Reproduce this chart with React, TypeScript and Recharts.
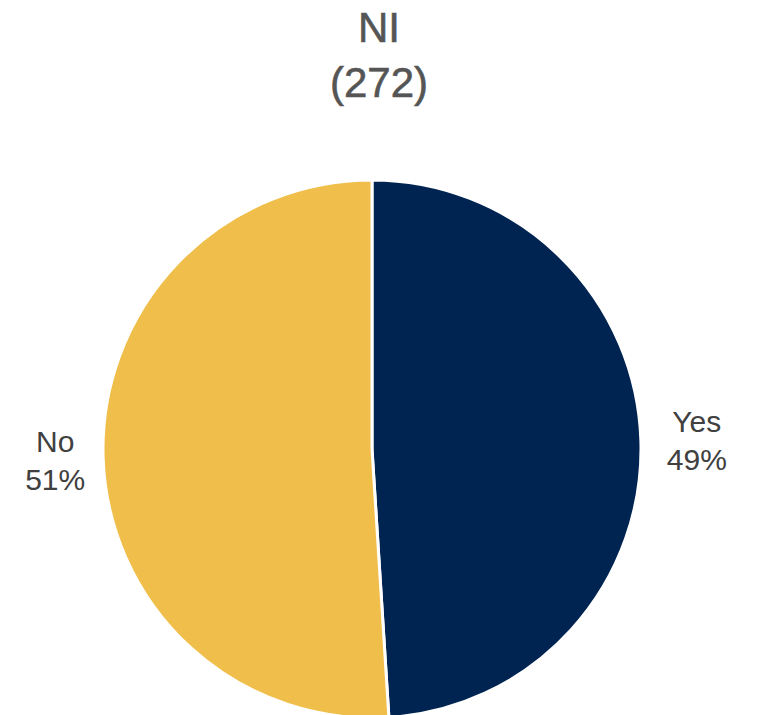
import React from 'react';
import { PieChart, Pie, Cell } from 'recharts';

const categories = ['Yes', 'No'];
const values = [49, 51];
const colors = ['#002452', '#F0BE4A'];
const titleLines = ['NI', '(272)'];

const data = categories.map((name, i) => ({ name, value: values[i] }));

const RAD = Math.PI / 180;

const renderLabel = (props: any) => {
  const { cx, cy, midAngle, outerRadius, name, value } = props;
  const r = outerRadius + 52;
  const x = cx + r * Math.cos(-midAngle * RAD) + 4;
  const y = cy + r * Math.sin(-midAngle * RAD);
  return (
    <text
      x={x}
      y={y}
      textAnchor="middle"
      fill="#404040"
      fontSize={30}
      fontFamily="'Liberation Sans', Arial, sans-serif"
    >
      <tspan x={x} dy={-7}>{name}</tspan>
      <tspan x={x} dy={38}>{`${value}%`}</tspan>
    </text>
  );
};

export default function App() {
  return (
    <div style={{ position: 'absolute', left: 0, top: 0, width: 758, height: 715, background: '#fff' }}>
      <PieChart width={758} height={715} margin={{ top: 0, right: 0, bottom: 0, left: 0 }}>
        <text
          x={379}
          y={42}
          textAnchor="middle"
          fill="#555555"
          stroke="#555555"
          strokeWidth={0.6}
          fontSize={42}
          fontFamily="'Liberation Sans', Arial, sans-serif"
        >
          {titleLines[0]}
        </text>
        <text
          x={379}
          y={97}
          textAnchor="middle"
          fill="#555555"
          stroke="#555555"
          strokeWidth={0.6}
          fontSize={42}
          fontFamily="'Liberation Sans', Arial, sans-serif"
        >
          {titleLines[1]}
        </text>
        <Pie
          data={data}
          dataKey="value"
          nameKey="name"
          cx={372}
          cy={449}
          outerRadius={269}
          startAngle={90}
          endAngle={-270}
          stroke="#ffffff"
          strokeWidth={3}
          label={renderLabel}
          labelLine={false}
          isAnimationActive={false}
        >
          {data.map((d, i) => (
            <Cell key={d.name} fill={colors[i]} />
          ))}
        </Pie>
      </PieChart>
    </div>
  );
}
